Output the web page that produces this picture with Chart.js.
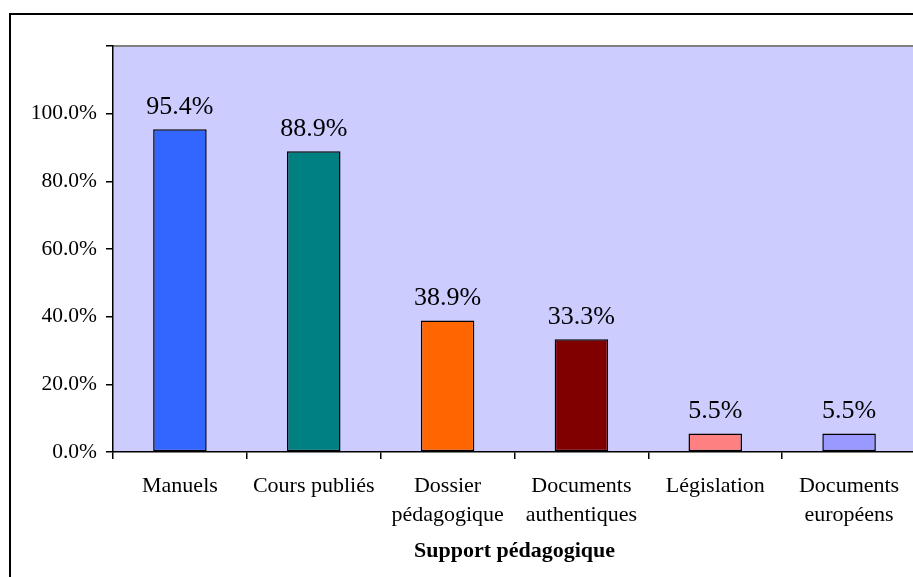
<!DOCTYPE html>
<html>
<head>
<meta charset="utf-8">
<script src="https://cdn.jsdelivr.net/npm/chart.js@4/dist/chart.umd.min.js"></script>
<style>
  html, body { margin: 0; padding: 0; background: #fff; overflow: hidden; }
  #wrap { position: relative; width: 930px; height: 600px; }
</style>
</head>
<body>
<div id="wrap"><canvas id="support-chart"></canvas></div>
<script>
const CATEGORIES = [
  ['Manuels'],
  ['Cours publiés'],
  ['Dossier', 'pédagogique'],
  ['Documents', 'authentiques'],
  ['Législation'],
  ['Documents', 'européens']
];
const SHARES = [95.4, 88.9, 38.9, 33.3, 5.5, 5.5];
const BAR_COLORS = ['#3366ff', '#008080', '#ff6600', '#800000', '#ff8080', '#9999ff'];
const Y_TICKS = [0, 20, 40, 60, 80, 100, 120];
const AXIS_TITLE = 'Support pédagogique';

const SERIF = "'Liberation Serif', 'Times New Roman', serif";

// plot background, grey top edge and the outer frame
const backdrop = {
  id: 'backdrop',
  beforeDraw(chart) {
    const { ctx, chartArea: a } = chart;
    ctx.save();
    ctx.fillStyle = '#ccccff';
    ctx.fillRect(a.left, a.top, a.right - a.left, a.bottom - a.top);
    ctx.strokeStyle = '#808080';
    ctx.lineWidth = 2;
    ctx.beginPath();
    ctx.moveTo(a.left, a.top);
    ctx.lineTo(a.right, a.top);
    ctx.lineTo(a.right, a.bottom);
    ctx.stroke();
    ctx.strokeStyle = '#000';
    ctx.lineWidth = 2;
    ctx.strokeRect(10, 14, chart.width + 20, chart.height + 20);
    ctx.restore();
  }
};

// percentage written above each bar
const valueLabels = {
  id: 'valueLabels',
  afterDatasetsDraw(chart) {
    const { ctx } = chart;
    const meta = chart.getDatasetMeta(0);
    ctx.save();
    ctx.font = `26px ${SERIF}`;
    ctx.fillStyle = '#000';
    ctx.textAlign = 'center';
    ctx.textBaseline = 'middle';
    meta.data.forEach((bar, i) => {
      ctx.fillText(SHARES[i].toFixed(1) + '%', bar.x, bar.y - 22);
    });
    ctx.restore();
  }
};

new Chart(document.getElementById('support-chart'), {
  type: 'bar',
  data: {
    labels: CATEGORIES,
    datasets: [{
      data: SHARES,
      backgroundColor: BAR_COLORS,
      borderColor: '#000',
      borderWidth: 1.5,
      borderSkipped: false,
      barPercentage: 0.4,
      categoryPercentage: 1
    }]
  },
  options: {
    responsive: true,
    maintainAspectRatio: false,
    animation: false,
    layout: { padding: { left: 0, top: 46, right: 14, bottom: 0 } },
    plugins: {
      legend: { display: false },
      tooltip: { enabled: false }
    },
    scales: {
      x: {
        grid: { offset: true, drawOnChartArea: false, drawTicks: true, tickLength: 7, color: '#000', lineWidth: 1.5 },
        border: { color: '#000', width: 1.5 },
        ticks: {
          color: '#000',
          padding: 13,
          maxRotation: 0,
          autoSkip: false,
          font: { family: SERIF, size: 22, lineHeight: 1.3 }
        },
        title: {
          display: true,
          text: AXIS_TITLE,
          color: '#000',
          font: { family: SERIF, size: 22, weight: 'bold' },
          padding: { top: 0, bottom: 35 }
        },
        afterFit(s) { s.height = 148; }
      },
      y: {
        min: Y_TICKS[0],
        max: Y_TICKS[Y_TICKS.length - 1],
        afterBuildTicks(s) { s.ticks = Y_TICKS.map(v => ({ value: v })); },
        grid: { drawOnChartArea: false, drawTicks: true, tickLength: 7, color: '#000', lineWidth: 1.5 },
        border: { color: '#000', width: 1.5 },
        ticks: {
          color: '#000',
          padding: 9,
          font: { family: SERIF, size: 21.5 },
          callback: v => (v >= 120 ? '' : v.toFixed(1) + '%')
        },
        afterFit(s) { s.width = 113; }
      }
    }
  },
  plugins: [backdrop, valueLabels]
});
</script>
</body>
</html>
